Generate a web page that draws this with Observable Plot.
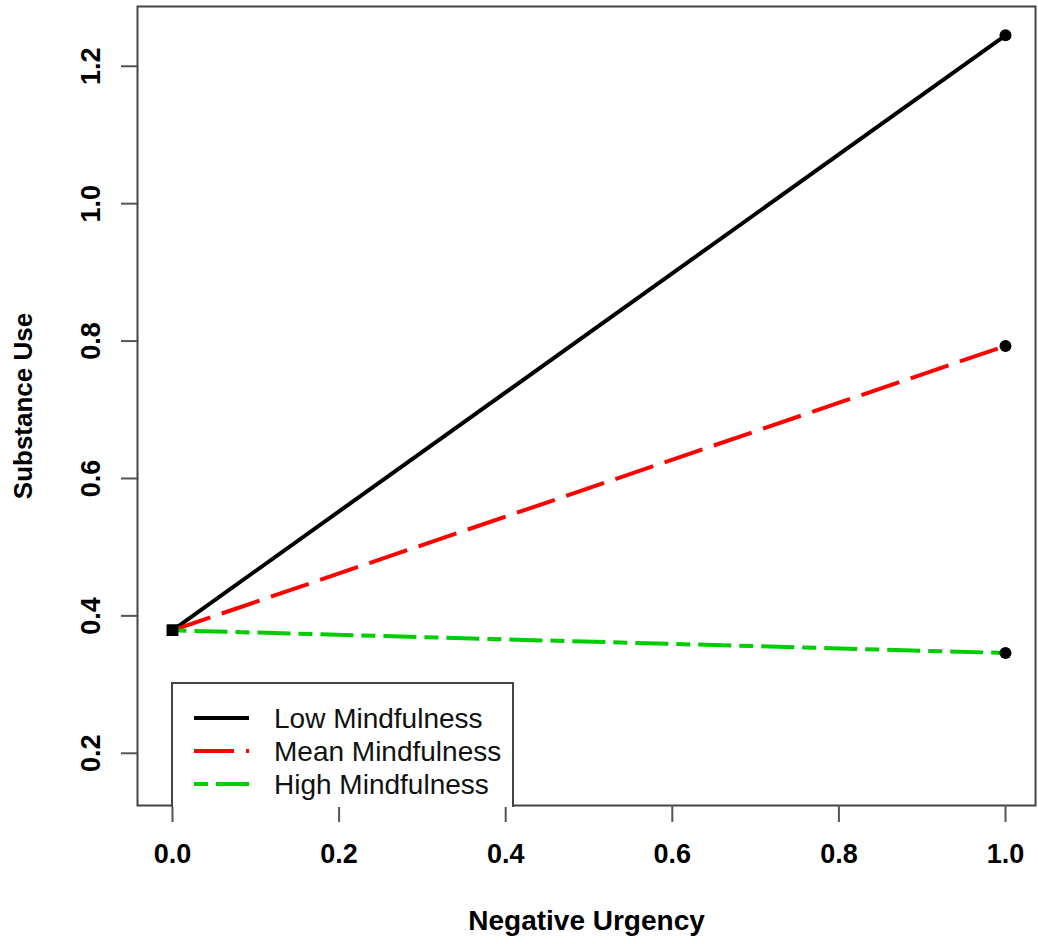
<!DOCTYPE html>
<html>
<head>
<meta charset="utf-8">
<script src="https://cdn.jsdelivr.net/npm/d3@7"></script>
<script src="https://cdn.jsdelivr.net/npm/@observablehq/plot@0.6"></script>
<style>
  html, body { margin: 0; padding: 0; background: #fff; }
  #wrap { position: relative; width: 1038px; height: 944px; font-family: "Liberation Sans", Arial, sans-serif; }
  #legend { position: absolute; left: 171px; top: 682px; width: 343px; height: 125px; background: #fff;
            border: 2px solid #444; border-bottom: none; box-sizing: border-box; }
  #legend svg { position: absolute; left: 0; top: 0; }
</style>
</head>
<body>
<div id="wrap"></div>
<script>
// ---- data ----
const xValues = [0, 1];                       // Negative Urgency
const seriesNames = ["Low Mindfulness", "Mean Mindfulness", "High Mindfulness"];
const lowValues  = [0.379, 1.245];
const meanValues = [0.379, 0.793];
const highValues = [0.379, 0.346];
const xTicks = [0, 0.2, 0.4, 0.6, 0.8, 1.0];
const yTicks = [0.2, 0.4, 0.6, 0.8, 1.0, 1.2];

const seriesColors = ["#000000", "#ff0000", "#00cd00"];
const seriesDash = [null, "40,12", "14,8,33,8"];
const seriesValues = [lowValues, meanValues, highValues];

const rows = seriesNames.map((name, i) =>
  xValues.map((x, j) => ({series: name, x, y: seriesValues[i][j]})));

const lineMarks = rows.map((r, i) =>
  Plot.line(r, {x: "x", y: "y", stroke: seriesColors[i], strokeWidth: 4,
                strokeDasharray: seriesDash[i], strokeLinecap: "butt"}));

const startPts = rows.map(r => r[0]);
const endPts = rows.map(r => r[1]);

const chart = Plot.plot({
  width: 1038,
  height: 944,
  marginLeft: 137,
  marginRight: 3,
  marginTop: 6,
  marginBottom: 139,
  style: {fontFamily: "'Liberation Sans', Arial, sans-serif", background: "#fff", color: "#000"},
  x: {domain: [-0.042, 1.036]},
  y: {domain: [0.124, 1.287]},
  marks: [
    Plot.frame({stroke: "#444", strokeWidth: 2}),
    Plot.axisX({ticks: xTicks, tickFormat: d3.format(".1f"), tickSize: 17, tickPadding: 21,
                fontSize: 27, fontWeight: "bold", stroke: "#555", strokeWidth: 2, fill: "#000", label: null}),
    Plot.axisY({ticks: yTicks, tickFormat: d3.format(".1f"), tickSize: 16, tickPadding: 22, tickRotate: -90,
                fontSize: 27, fontWeight: "bold", stroke: "#555", strokeWidth: 2, fill: "#000", label: null}),
    Plot.text(["Negative Urgency"], {frameAnchor: "bottom", dy: 116, lineAnchor: "middle", textAnchor: "middle",
                fontSize: 28, fontWeight: "bold", fill: "#000"}),
    Plot.text(["Substance Use"], {frameAnchor: "left", dx: -114, rotate: -90, textAnchor: "middle", lineAnchor: "middle",
                fontSize: 26, fontWeight: "bold", fill: "#000"}),
    ...lineMarks,
    Plot.dot(startPts, {x: "x", y: "y", symbol: "square", r: 6.4, fill: "#000"}),
    Plot.dot(endPts, {x: "x", y: "y", symbol: "circle", r: 6, fill: "#000"})
  ]
});

const wrap = document.getElementById("wrap");
wrap.appendChild(chart);

// legend (HTML overlay, like R's legend box)
const legend = document.createElement("div");
legend.id = "legend";
const ns = "http://www.w3.org/2000/svg";
const lsvg = document.createElementNS(ns, "svg");
lsvg.setAttribute("width", 343);
lsvg.setAttribute("height", 125);
seriesNames.forEach((name, i) => {
  const yy = 34 + i * 33;
  const ln = document.createElementNS(ns, "line");
  ln.setAttribute("x1", 21); ln.setAttribute("x2", 76);
  ln.setAttribute("y1", yy); ln.setAttribute("y2", yy);
  ln.setAttribute("stroke", seriesColors[i]);
  ln.setAttribute("stroke-width", 4);
  if (seriesDash[i]) ln.setAttribute("stroke-dasharray", seriesDash[i]);
  lsvg.appendChild(ln);
  const tx = document.createElementNS(ns, "text");
  tx.setAttribute("x", 101);
  tx.setAttribute("y", yy);
  tx.setAttribute("dy", "0.36em");
  tx.setAttribute("font-size", 28);
  tx.setAttribute("font-family", "'Liberation Sans', Arial, sans-serif");
  tx.setAttribute("fill", "#111");
  tx.textContent = name;
  lsvg.appendChild(tx);
});
legend.appendChild(lsvg);
wrap.appendChild(legend);
</script>
</body>
</html>
